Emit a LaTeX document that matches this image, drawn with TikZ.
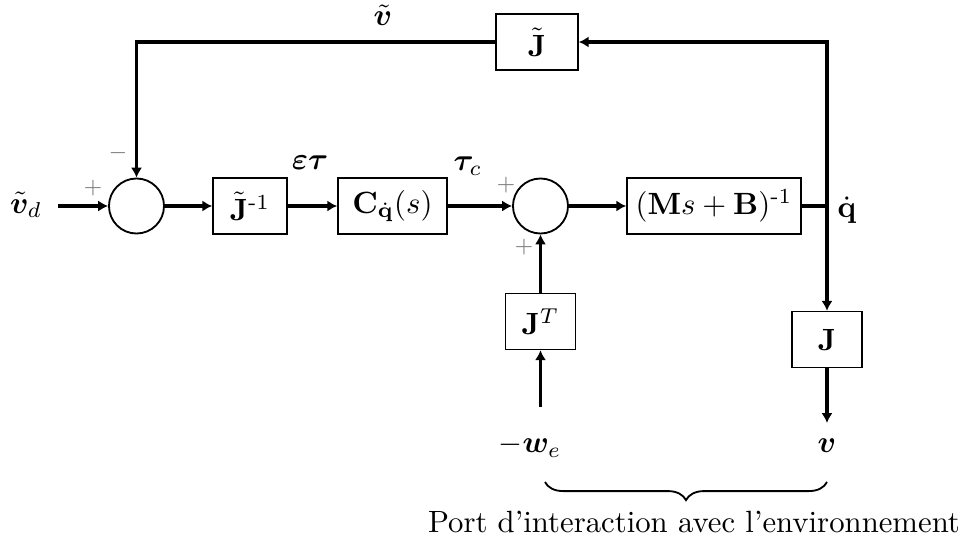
\documentclass[tikz,border=0pt]{standalone}
\usepackage{amsmath,bm}
\usetikzlibrary{arrows.meta,decorations.pathreplacing}
\begin{document}
\begin{tikzpicture}[x=0.3253pt,y=-0.3253pt,
  blk/.style={draw,line width=0.5pt,minimum width=#1,minimum height=18.2pt,inner sep=0pt},
  sumc/.style={draw,circle,line width=0.6pt,minimum size=17.9pt,inner sep=0pt},
  conn/.style={line width=1pt,-{Latex[length=3.2pt,width=3.6pt]}},
  wire/.style={line width=1pt},
  sgn/.style={text=gray,font=\scriptsize,inner sep=0pt},
  lbl/.style={inner sep=0pt}]
\useasboundingbox (0,0) rectangle (968,545);
% nodes
\node[sumc] (s1) at (136.5,206) {};
\node[sumc] (s2) at (540.5,206) {};
\node[blk=24.07pt] (jinv) at (250,206) {$\tilde{\mathbf{J}}^{\text{-}1}$};
\node[blk=35.46pt] (cq) at (392.5,206) {$\mathbf{C}_{\dot{\mathbf{q}}}(s)$};
\node[blk=56.6pt] (mb) at (714,206) {$(\mathbf{M}s+\mathbf{B})^{\text{-}1}$};
\node[blk=26.67pt] (jt) at (537,42) {$\tilde{\mathbf{J}}$};
\node[blk=22.77pt] (JT) at (540.5,321.5) {$\mathbf{J}^T$};
\node[blk=22.77pt] (J) at (827,339.5) {$\mathbf{J}$};
\coordinate (vdin) at (58,206);
\coordinate (jn) at (827,206);
\coordinate (westart) at (540.5,407);
\coordinate (vend) at (827,423);
\coordinate (b1) at (545,482);
\coordinate (b2) at (827,482);
% connectors
\draw[conn] (vdin) -- (s1);
\draw[conn] (s1) -- (jinv);
\draw[conn] (jinv) -- (cq);
\draw[conn] (cq) -- (s2);
\draw[conn] (s2) -- (mb);
\draw[wire] (mb.east) -- (jn);
\draw[conn] (jn) |- (jt);
\draw[conn] (jt) -| (s1);
\draw[conn] (jn) -- (J);
\draw[conn] (J) -- (vend);
\draw[conn] (westart) -- (JT);
\draw[conn] (JT) -- (s2);
\draw[line width=0.6pt,decorate,decoration={brace,mirror,amplitude=5.9pt}] (b1) -- (b2);
% labels
\node[lbl] (lvd) at (26,205) {$\tilde{\bm{v}}_d$};
\node[lbl] (lvt) at (383,15) {$\tilde{\bm{v}}$};
\node[lbl] (leps) at (310,163) {$\bm{\varepsilon}\bm{\tau}$};
\node[lbl] (ltau) at (468,166) {$\bm{\tau}_c$};
\node[lbl] (lq) at (847,210) {$\dot{\mathbf{q}}$};
\node[lbl] (lwe) at (530,446) {$-\bm{w}_e$};
\node[lbl] (lv) at (827,446) {$\bm{v}$};
\node[lbl] (lport) at (694,522) {Port d'interaction avec l'environnement};
\node[sgn] (p1) at (93,188) {$+$};
\node[sgn] (m1) at (118,153) {$-$};
\node[sgn] (p2) at (506,185) {$+$};
\node[sgn] (p3) at (524,247) {$+$};
\end{tikzpicture}
\end{document}
